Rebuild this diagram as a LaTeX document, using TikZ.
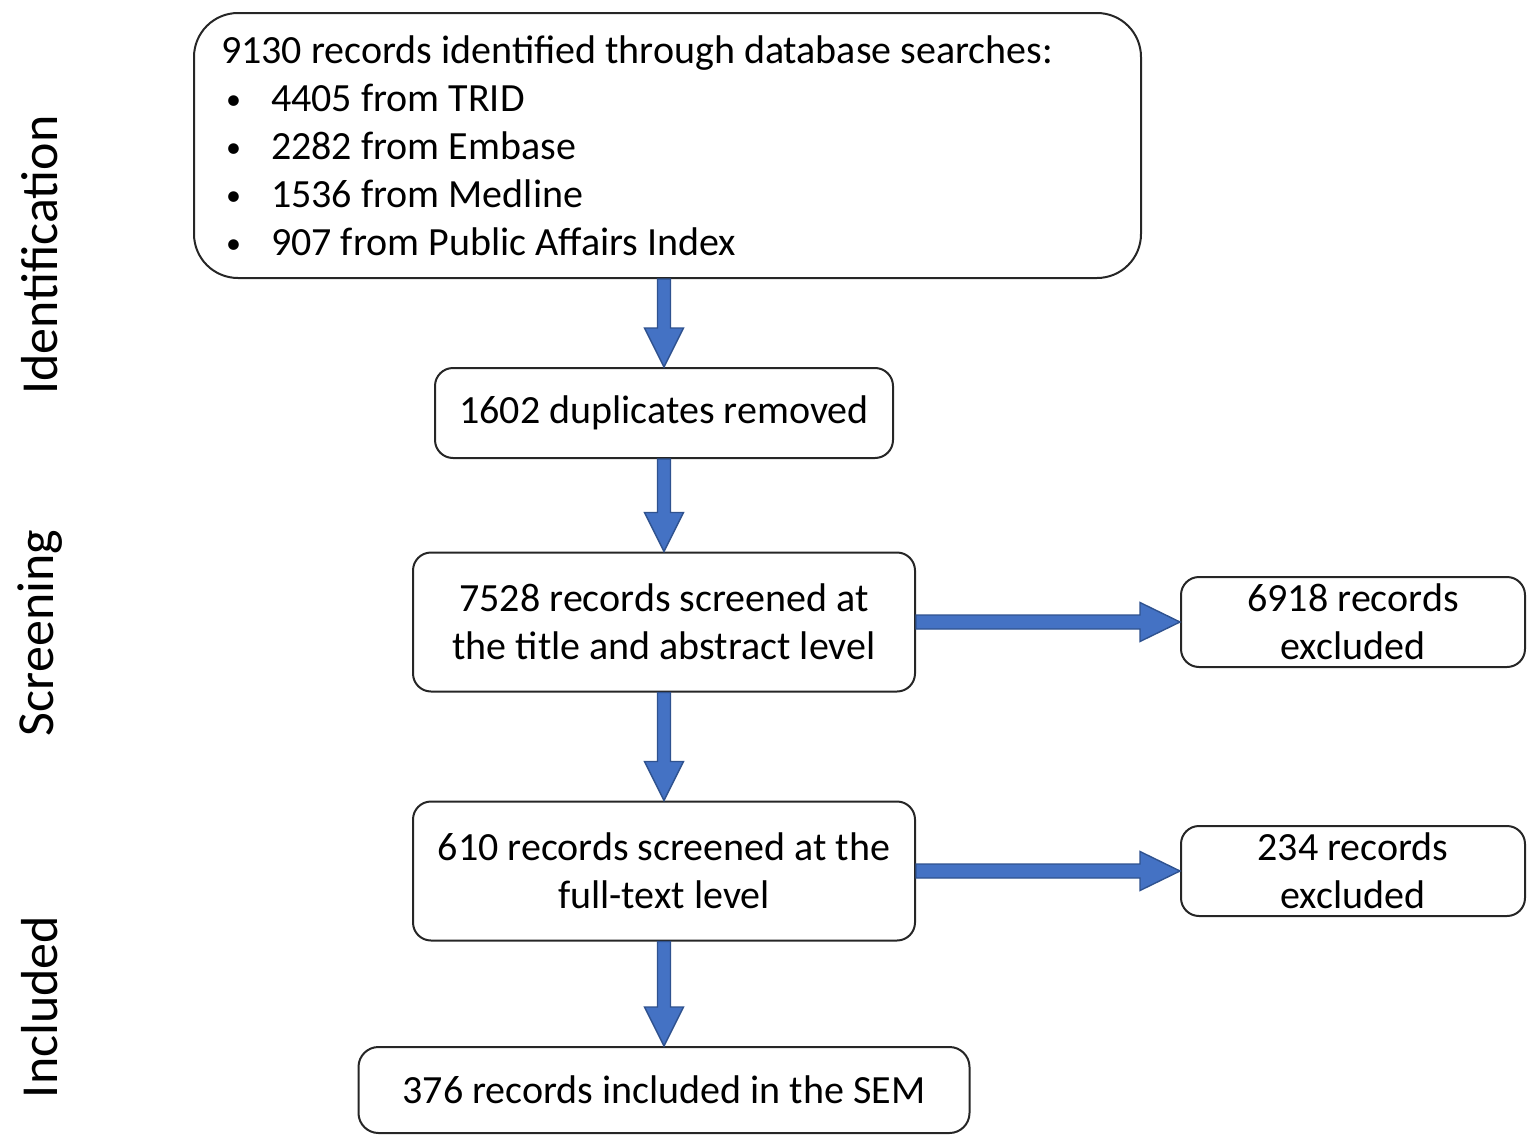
\documentclass[tikz,border=0pt]{standalone}
\usepackage{fontspec}
\setmainfont{Carlito}
\usetikzlibrary{calc}

% block arrows drawn as filled outlines between named nodes
\newcommand\flowdown[2]{%
  \filldraw[flowarrow] ($(#1.south -| #2.north)+(-6.5,0)$) -- ($(#2.north)+(-6.5,-39)$)
    -- ($(#2.north)+(-19.5,-39)$) -- (#2.north) -- ($(#2.north)+(19.5,-39)$)
    -- ($(#2.north)+(6.5,-39)$) -- ($(#1.south -| #2.north)+(6.5,0)$) -- cycle;}
\newcommand\flowright[2]{%
  \filldraw[flowarrow] ($(#1.east)+(0,-7)$) -- ($(#2.west)+(-40,-7)$)
    -- ($(#2.west)+(-40,-19.5)$) -- (#2.west) -- ($(#2.west)+(-40,19.5)$)
    -- ($(#2.west)+(-40,7)$) -- ($(#1.east)+(0,7)$) -- cycle;}
\newcommand\itemdot{\makebox[25pt][l]{\hspace{2.5pt}\raisebox{1pt}{\fontsize{15}{15}\selectfont\textbullet}}}

\begin{document}
\begin{tikzpicture}[x=0.5pt,y=-0.5pt,
  box/.style={draw=black!85, line width=1pt, rounded corners=9pt,
    align=center, inner sep=0pt, font=\fontsize{20}{24}\selectfont},
  flowarrow/.style={fill={rgb,255:red,68;green,114;blue,196},
    draw={rgb,255:red,47;green,82;blue,143}, line width=0.7pt, line join=miter},
  phase/.style={rotate=90, font=\fontsize{26}{30}\selectfont}]
\useasboundingbox (0,0) rectangle (1527,1135);

% phase labels
\node[phase] (pid) at (40,255) {Identification};
\node[phase] (psc) at (40,633) {Screening};
\node[phase] (pin) at (40,1007) {Included};

% boxes
\node[box, rounded corners=22pt, anchor=north west, minimum width=473.5pt,
  minimum height=132.5pt, inner xsep=13.5pt, text width=446.5pt, align=flush left]
  (ident) at (193,12) {%
  9130 records identified through database searches:\\
  \itemdot 4405 from TRID\\
  \itemdot 2282 from Embase\\
  \itemdot 1536 from Medline\\
  \itemdot 907 from Public Affairs Index};

\node[box, minimum width=229pt, minimum height=45pt] (dup) at (664,413)
  {1602 duplicates removed};
\node[box, minimum width=251pt, minimum height=69.5pt] (screen) at (664,622)
  {7528 records screened at\\the title and abstract level};
\node[box, minimum width=172pt, minimum height=45pt] (excla) at (1353,622)
  {6918 records\\excluded};
\node[box, minimum width=251pt, minimum height=69.5pt] (full) at (664,871)
  {610 records screened at the\\full-text level};
\node[box, minimum width=172pt, minimum height=45pt] (exclb) at (1353,871)
  {234 records\\excluded};
\node[box, rounded corners=10pt, minimum width=305.5pt, minimum height=43pt]
  (incl) at (664,1090) {376 records included in the SEM};

% arrows
\flowdown{ident}{dup}
\flowdown{dup}{screen}
\flowdown{screen}{full}
\flowdown{full}{incl}
\flowright{screen}{excla}
\flowright{full}{exclb}
\end{tikzpicture}
\end{document}
